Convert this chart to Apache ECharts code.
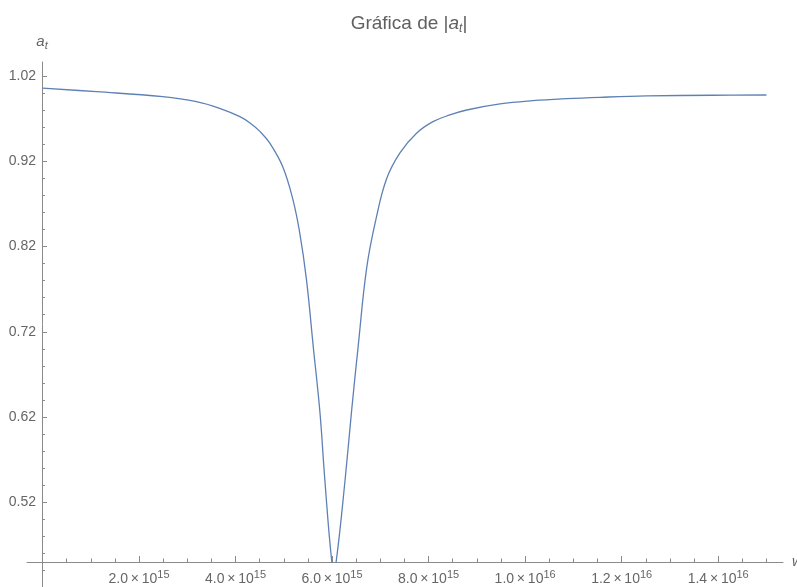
<!DOCTYPE html>
<html>
<head>
<meta charset="utf-8">
<title>Gráfica de |a_t|</title>
<script src="https://cdn.jsdelivr.net/npm/echarts@6/dist/echarts.min.js"></script>
<style>
html, body { margin: 0; padding: 0; background: #fff; }
#chart { width: 797px; height: 587px; }
</style>
</head>
<body>
<div id="chart"></div>
<script>
// values
var wValues = [0, 1.12e15, 2.49e15, 3.19e15, 3.67e15, 4.09e15, 4.30e15, 4.51e15, 4.71e15,
    4.98e15, 5.19e15, 5.33e15, 5.47e15, 5.61e15, 5.75e15, 5.85e15, 5.99e15, 6.04e15,
    6.09e15, 6.27e15, 6.40e15, 6.54e15, 6.72e15, 6.92e15, 7.13e15,
    7.41e15, 7.75e15, 8.09e15, 8.44e15, 8.79e15, 9.48e15, 1.016e16, 1.086e16, 1.155e16,
    1.252e16, 1.389e16, 1.5e16];
var atValues = [1.0057, 1.0016, 0.9957, 0.9899, 0.9821, 0.9723, 0.9649, 0.9547, 0.9412,
    0.9133, 0.8746, 0.8359, 0.7809, 0.7026, 0.6246, 0.5464, 0.4526, 0.445,
    0.4526, 0.5464, 0.6246, 0.7026, 0.7961, 0.8547, 0.8995,
    0.930, 0.9528, 0.9664, 0.9743, 0.9801, 0.9872, 0.9910, 0.9934, 0.9950,
    0.9966, 0.9974, 0.9977];

var xMajorTicks = [2e15, 4e15, 6e15, 8e15, 1e16, 1.2e16, 1.4e16];
var xMinorTicks = [0.5e15, 1e15, 1.5e15, 2.5e15, 3e15, 3.5e15, 4.5e15, 5e15, 5.5e15,
    6.5e15, 7e15, 7.5e15, 8.5e15, 9e15, 9.5e15, 1.05e16, 1.1e16, 1.15e16,
    1.25e16, 1.3e16, 1.35e16, 1.45e16, 1.5e16];
var yMajorTicks = [0.52, 0.62, 0.72, 0.82, 0.92, 1.02];
var yMinorTicks = [0.44, 0.46, 0.48, 0.50, 0.54, 0.56, 0.58, 0.60, 0.64, 0.66, 0.68, 0.70,
    0.74, 0.76, 0.78, 0.80, 0.84, 0.86, 0.88, 0.90, 0.94, 0.96, 0.98, 1.00];

var xMin = -0.321e15, xMax = 1.5343e16;
var yMin = 0.45, yMax = 1.0364, yMinFull = 0.4207;

var axisColor = '#8a8a8a';
var textColor = '#666666';
var font = 'Liberation Sans';

function sciLabel(v) {
    var e = Math.floor(Math.log10(v) + 1e-9);
    var m = v / Math.pow(10, e);
    return m.toFixed(1) + '\u2009×\u200910{sup|' + e + '}';
}

// hidden x axis for the grids that only carry the y axis
function blankX(grid) {
    return {
        type: 'value', gridIndex: grid, min: 0, max: 1, show: false
    };
}

var points = [];
for (var i = 0; i < wValues.length; i++) points.push([wValues[i], atValues[i]]);

var chart = echarts.init(document.getElementById('chart'));

var option = {
    backgroundColor: '#ffffff',
    animation: false,
    title: {
        text: 'Gráfica de |{a|a}{t|t}|',
        left: 404,
        textAlign: 'center',
        top: 8,
        textStyle: {
            fontFamily: font, fontSize: 19, fontWeight: 'normal', color: '#606060', lineHeight: 22,
            rich: {
                a: { fontFamily: font, fontSize: 19, fontStyle: 'italic', color: '#606060', lineHeight: 22 },
                t: { fontFamily: font, fontSize: 12, fontStyle: 'italic', color: '#606060', lineHeight: 9, verticalAlign: 'bottom' }
            }
        }
    },
    // grid 0 holds the curve and the w axis, grids 1-2 put the y axis at w = 0
    grid: [
        { left: 27, right: 14, top: 62, bottom: 25, outerBoundsMode: 'none' },
        { left: 42, right: 14, top: 62, bottom: 0, outerBoundsMode: 'none' },
        { left: 42, right: 14, top: 62, bottom: 0, outerBoundsMode: 'none' }
    ],
    xAxis: [
        {
            type: 'value', gridIndex: 0, min: xMin, max: xMax, position: 'bottom',
            name: 'w', nameLocation: 'end', nameGap: 9,
            nameTextStyle: { fontFamily: font, fontSize: 15, fontStyle: 'italic', color: textColor },
            axisLine: { show: true, onZero: false, lineStyle: { color: axisColor, width: 1 } },
            axisTick: { show: true, inside: true, length: 6, customValues: xMajorTicks, lineStyle: { color: axisColor } },
            axisLabel: {
                show: true, customValues: xMajorTicks, margin: 7,
                formatter: sciLabel,
                fontFamily: font, fontSize: 14, color: textColor, lineHeight: 20,
                rich: { sup: { fontFamily: font, fontSize: 11, color: textColor, lineHeight: 11, verticalAlign: 'top' } }
            },
            splitLine: { show: false }
        },
        {
            type: 'value', gridIndex: 0, min: xMin, max: xMax, position: 'bottom',
            axisLine: { show: false, onZero: false },
            axisTick: { show: true, inside: true, length: 3.5, customValues: xMinorTicks, lineStyle: { color: axisColor } },
            axisLabel: { show: false },
            splitLine: { show: false }
        },
        blankX(1),
        blankX(2)
    ],
    yAxis: [
        {
            type: 'value', gridIndex: 0, min: yMin, max: yMax, show: false
        },
        {
            type: 'value', gridIndex: 1, min: yMinFull, max: yMax, position: 'left',
            name: '{a|a}{t|t}', nameLocation: 'end', nameGap: 11,
            nameTextStyle: {
                lineHeight: 18,
                rich: {
                    a: { fontFamily: font, fontSize: 15, fontStyle: 'italic', color: textColor, lineHeight: 18 },
                    t: { fontFamily: font, fontSize: 11, fontStyle: 'italic', color: textColor, lineHeight: 7, verticalAlign: 'bottom' }
                }
            },
            axisLine: { show: true, onZero: false, lineStyle: { color: axisColor, width: 1 } },
            axisTick: { show: true, inside: true, length: 3, customValues: yMinorTicks, lineStyle: { color: axisColor } },
            axisLabel: { show: false },
            splitLine: { show: false }
        },
        {
            type: 'value', gridIndex: 2, min: yMinFull, max: yMax, position: 'left',
            axisLine: { show: false, onZero: false },
            axisTick: { show: true, inside: true, length: 5, customValues: yMajorTicks, lineStyle: { color: axisColor } },
            axisLabel: {
                show: true, customValues: yMajorTicks, margin: 6,
                formatter: function (v) { return v.toFixed(2); },
                fontFamily: font, fontSize: 14, color: textColor
            },
            splitLine: { show: false }
        }
    ],
    series: [
        {
            type: 'line',
            xAxisIndex: 0,
            yAxisIndex: 0,
            data: points,
            showSymbol: false,
            smooth: 0.4,
            clip: true,
            lineStyle: { color: '#5e81b5', width: 1.3 }
        }
    ]
};

chart.setOption(option);
</script>
</body>
</html>
